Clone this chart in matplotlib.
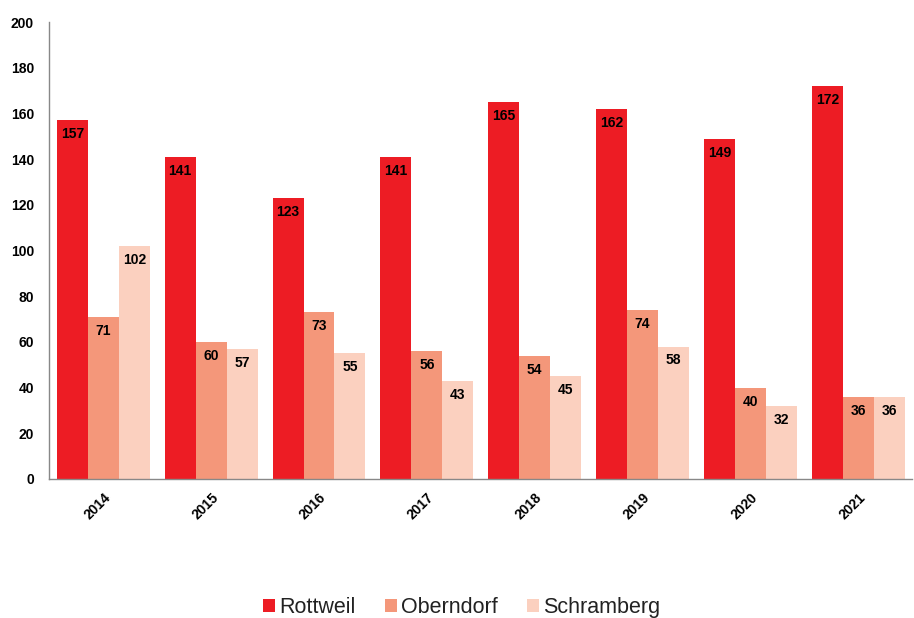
import matplotlib.pyplot as plt
import numpy as np

plt.rcParams['font.family'] = ['Liberation Sans', 'DejaVu Sans']

years = ['2014', '2015', '2016', '2017', '2018', '2019', '2020', '2021']
rottweil = [157, 141, 123, 141, 165, 162, 149, 172]
oberndorf = [71, 60, 73, 56, 54, 74, 40, 36]
schramberg = [102, 57, 55, 43, 45, 58, 32, 36]

series = [('Rottweil', rottweil, '#ed1c24'),
          ('Oberndorf', oberndorf, '#f4977a'),
          ('Schramberg', schramberg, '#fbd0bf')]

fig = plt.figure(figsize=(9.14, 6.18), dpi=100)
ax = fig.add_axes([0.054, 0.225, 0.944, 0.739])

x = np.arange(len(years))
w = 0.287
for i, (name, vals, color) in enumerate(series):
    bars = ax.bar(x + (i - 1) * w, vals, w, color=color, label=name)
    for b, v in zip(bars, vals):
        ax.annotate(str(v), (b.get_x() + b.get_width() / 2, v),
                    xytext=(0, -5), textcoords='offset points',
                    ha='center', va='top', fontsize=10, fontweight='bold')

ax.set_xlim(-0.5, len(years) - 0.5)
ax.set_ylim(0, 200)
ax.set_yticks(range(0, 201, 20))
ax.set_xticks(x)
ax.set_xticklabels(years, rotation=45, ha='right', rotation_mode='anchor')
ax.tick_params(axis='both', length=0, labelsize=10)
for lbl in ax.get_xticklabels() + ax.get_yticklabels():
    lbl.set_fontweight('bold')
ax.tick_params(axis='x', pad=8)
ax.tick_params(axis='y', pad=11)

for s in ['top', 'right']:
    ax.spines[s].set_visible(False)
for s in ['left', 'bottom']:
    ax.spines[s].set_color('#888888')
    ax.spines[s].set_linewidth(1)

fig.legend(loc='center', bbox_to_anchor=(0.505, 0.017), ncol=3, frameon=False,
           fontsize=15.5, handlelength=0.55, handleheight=0.55, handletextpad=0.2,
           columnspacing=1.35, labelcolor='#222222')

fig.savefig('out.png', dpi=100)
